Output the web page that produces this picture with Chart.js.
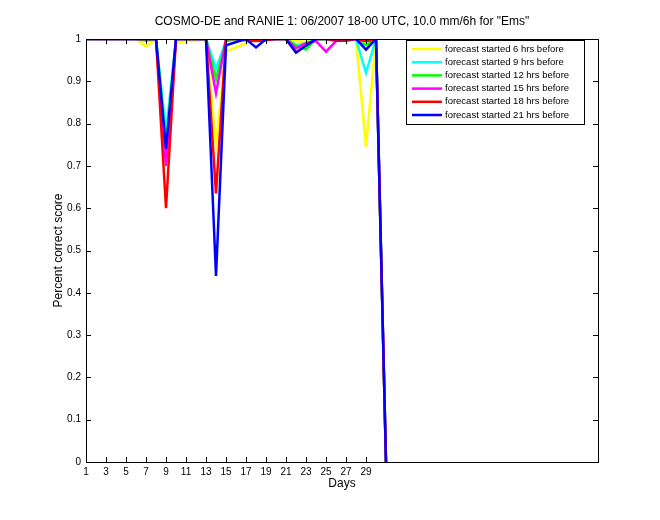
<!DOCTYPE html>
<html>
<head>
<meta charset="utf-8">
<script src="https://cdn.jsdelivr.net/npm/chart.js@4"></script>
<style>
  html, body { margin: 0; padding: 0; background: #fff; }
  #wrap { width: 660px; height: 520px; }
</style>
</head>
<body>
<div id="wrap"><canvas id="myChart" width="660" height="520"></canvas></div>
<script>
'use strict'
// days 1..31
let days = [];
for (let d = 1; d <= 31; d++) days.push(d);

let xTicks = [1, 3, 5, 7, 9, 11, 13, 15, 17, 19, 21, 23, 25, 27, 29];
let yTicks = [0, 0.1, 0.2, 0.3, 0.4, 0.5, 0.6, 0.7, 0.8, 0.9, 1];

let seriesNames = ['forecast started 6 hrs before', 'forecast started 9 hrs before', 'forecast started 12 hrs before',
  'forecast started 15 hrs before', 'forecast started 18 hrs before', 'forecast started 21 hrs before'];
let seriesColors = ['#ffff00', '#00ffff', '#00ff00', '#ff00ff', '#ff0000', '#0000ff'];

//            1  2  3  4  5  6  7      8  9     10    11     12     13 14    15    16    17    18    19 20 21 22     23     24     25    26     27     28 29     30 31
let fc6  = [1, 1, 1, 1, 1, 1, 0.982, 1, 0.72, 0.99, 0.995, 0.995, 1, 0.75, 0.97, 0.98, 0.99, 1, 1, 1, 1, 0.995, 0.993, 1, 1, 1, 1, 1, 0.745, 1, 0];
let fc9  = [1, 1, 1, 1, 1, 1, 1, 1, 0.78, 1, 1, 1, 1, 0.93, 0.995, 1, 1, 1, 1, 1, 1, 0.985, 0.99, 1, 1, 1, 1, 1, 0.92, 1, 0];
let fc12 = [1, 1, 1, 1, 1, 1, 0.996, 1, 0.75, 1, 1, 1, 1, 0.905, 0.995, 1, 1, 1, 1, 1, 1, 0.985, 0.975, 1, 1, 1, 1, 1, 0.985, 1, 0];
let fc15 = [1, 1, 1, 1, 1, 1, 1, 1, 0.70, 1, 1, 1, 1, 0.872, 1, 1, 1, 1, 1, 1, 1, 0.978, 0.99, 0.995, 0.97, 0.995, 1, 1, 1, 1, 0];
let fc18 = [1, 1, 1, 1, 1, 1, 1, 1, 0.60, 1, 1, 1, 1, 0.635, 1, 1, 0.997, 0.995, 0.997, 1, 1, 0.968, 0.985, 1, 1, 0.996, 0.996, 1, 0.995, 1, 0];
let fc21 = [1, 1, 1, 1, 1, 1, 1, 1, 0.74, 1, 1, 1, 1, 0.44, 0.985, 0.993, 1, 0.98, 1, 1, 1, 0.968, 0.984, 1, 1, 1, 1, 1, 0.975, 1, 0];

let allSeries = [fc6, fc9, fc12, fc15, fc18, fc21];

let plotFont = 'Liberation Sans, Arial, Helvetica, sans-serif';

function makeDatasets() {
  let sets = [];
  for (let i = 0; i < allSeries.length; i++) {
    sets.push({
      label: seriesNames[i],
      data: days.map((d, k) => ({ x: d, y: allSeries[i][k] })),
      borderColor: seriesColors[i],
      backgroundColor: seriesColors[i],
      borderWidth: 2.5,
      pointRadius: 0,
      tension: 0,
      fill: false,
      order: allSeries.length - i
    });
  }
  return sets;
}

// box, inward ticks, title and legend the matlab way
let matlabFrame = {
  id: 'matlabFrame',
  afterDraw(chart) {
    let ctx = chart.ctx;
    let a = chart.chartArea;
    let xs = chart.scales.x;
    let ys = chart.scales.y;
    ctx.save();
    ctx.strokeStyle = '#000';
    ctx.lineWidth = 1;
    ctx.strokeRect(Math.round(a.left) + 0.5, Math.round(a.top) + 0.5, Math.round(a.right - a.left), Math.round(a.bottom - a.top));
    ctx.beginPath();
    let tl = 5;
    for (let v of xTicks) {
      let px = Math.round(xs.getPixelForValue(v)) + 0.5;
      ctx.moveTo(px, a.bottom); ctx.lineTo(px, a.bottom - tl);
      ctx.moveTo(px, a.top); ctx.lineTo(px, a.top + tl);
    }
    for (let v of yTicks) {
      let py = Math.round(ys.getPixelForValue(v)) + 0.5;
      ctx.moveTo(a.left, py); ctx.lineTo(a.left + tl, py);
      ctx.moveTo(a.right, py); ctx.lineTo(a.right - tl, py);
    }
    ctx.stroke();

    // title
    ctx.fillStyle = '#000';
    ctx.font = '12px ' + plotFont;
    ctx.textAlign = 'center';
    ctx.textBaseline = 'middle';
    ctx.fillText('COSMO-DE and RANIE 1: 06/2007 18-00 UTC, 10.0 mm/6h for "Ems"', (a.left + a.right) / 2, 22);

    // legend
    let bx = 406, by = 40, bw = 178, bh = 84;
    ctx.fillStyle = '#fff';
    ctx.fillRect(bx, by, bw, bh);
    ctx.strokeRect(bx + 0.5, by + 0.5, bw, bh);
    ctx.font = '9.5px ' + plotFont;
    ctx.textAlign = 'left';
    for (let i = 0; i < seriesNames.length; i++) {
      let ry = 49 + i * 13.2;
      ctx.strokeStyle = seriesColors[i];
      ctx.lineWidth = 2.5;
      ctx.beginPath();
      ctx.moveTo(412, ry); ctx.lineTo(442, ry);
      ctx.stroke();
      ctx.fillStyle = '#000';
      ctx.fillText(seriesNames[i], 445, ry);
    }
    ctx.restore();
  }
};

let ctx = document.getElementById('myChart').getContext('2d');
let myChart = new Chart(ctx, {
  type: 'line',
  data: { datasets: makeDatasets() },
  options: {
    responsive: false,
    animation: false,
    layout: { padding: { top: 39, right: 62, left: 0, bottom: 0 } },
    plugins: {
      legend: { display: false },
      tooltip: { enabled: false },
      title: { display: false }
    },
    scales: {
      x: {
        type: 'linear',
        min: 1,
        max: 52.2,
        afterBuildTicks: (scale) => { scale.ticks = xTicks.map(v => ({ value: v })); },
        afterFit: (scale) => { scale.height = 58; },
        grid: { display: false, drawTicks: false },
        border: { display: false },
        ticks: { font: { size: 10, family: plotFont }, color: '#000', padding: 4, maxRotation: 0, autoSkip: false },
        title: { display: true, text: 'Days', font: { size: 12, family: plotFont }, color: '#000', padding: { top: 29, bottom: 29 } }
      },
      y: {
        min: 0,
        max: 1,
        afterBuildTicks: (scale) => { scale.ticks = yTicks.map(v => ({ value: v })); },
        afterFit: (scale) => { scale.width = 86; },
        grid: { display: false, drawTicks: false },
        border: { display: false },
        ticks: { font: { size: 10, family: plotFont }, color: '#000', padding: 5,
          callback: (v) => String(+v.toFixed(1)) },
        title: { display: true, text: 'Percent correct score', font: { size: 12, family: plotFont }, color: '#000', padding: { top: 51, bottom: 51 } }
      }
    }
  },
  plugins: [matlabFrame]
});
</script>
</body>
</html>
